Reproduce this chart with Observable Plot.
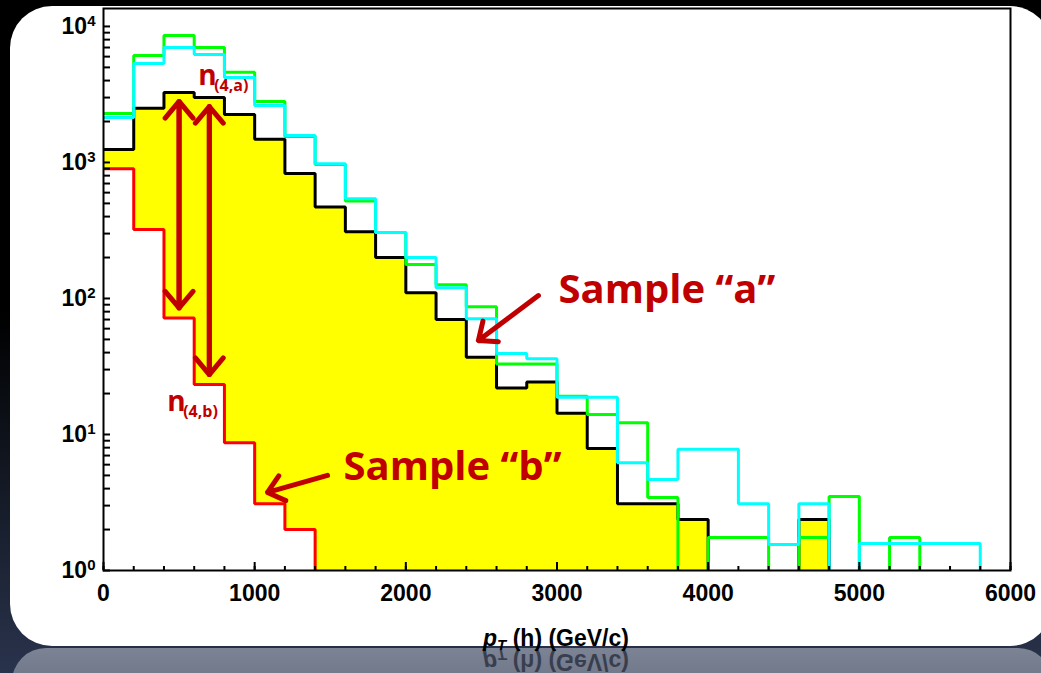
<!DOCTYPE html>
<html>
<head>
<meta charset="utf-8">
<script src="https://cdn.jsdelivr.net/npm/d3@7"></script>
<script src="https://cdn.jsdelivr.net/npm/@observablehq/plot@0.6"></script>
<style>
  html, body { margin: 0; padding: 0; background: #000; }
  #wrap { position: relative; width: 1041px; height: 673px; overflow: hidden;
    background: linear-gradient(to bottom, #000 0%, #000 46%, #151b27 74%, #29334c 100%); }
  #panel { position: absolute; left: 10px; top: 6px; width: 1042px; height: 640px; background: #fff; border-radius: 42px; }
  #reflect { position: absolute; left: 12px; top: 648px; width: 1040px; height: 60px;
    background: linear-gradient(to bottom, #7b8394, #646d80); border-radius: 34px 34px 0 0; }
  #chart { position: absolute; left: 0; top: 0; }
  .xlabel { position: absolute; left: 0; width: 1112px; height: 22px; line-height: 22px; text-align: center;
    font: bold 23px "Liberation Sans", Arial, sans-serif; color: #000; white-space: nowrap; }
  .xlabel i { font-style: italic; }
  .xlabel sub { font-size: 15px; font-style: italic; vertical-align: -4px; line-height: 0; }
  #xlab { top: 625px; }
  #xlabRef { top: 653px; transform: scaleY(-1); color: #2e3443; opacity: 0.85; }
</style>
</head>
<body>
<div id="wrap">
  <div id="panel"></div>
  <div id="reflect"></div>
  <div id="xlabRef" class="xlabel"><i>p</i><sub>T</sub> (h) (GeV/c)</div>
  <div id="chart"></div>
  <div id="xlab" class="xlabel"><i>p</i><sub>T</sub> (h) (GeV/c)</div>
</div>
<script>
// ---- data (bin lower edges, 200 GeV/c wide) ----
const binStart = [0,200,400,600,800,1000,1200,1400,1600,1800,2000,2200,2400,2600,2800,
                  3000,3200,3400,3600,3800,4000,4200,4400,4600,4800,5000,5200,5400,5600,5800];
const binWidth = 200;
// black histogram (sample "a", yellow filled)
const sampleA = [1247,2500,3270,3000,2250,1480,830,470,310,200,110,70,37,22,24.3,
                 14.3,7.9,3.1,3.1,2.37,0,0,0,2.37,0,0,0,0,0,0];
// red histogram (sample "b")
const sampleB = [900,322,72,23.3,8.7,3.1,2.0,0,0,0,0,0,0,0,0,
                 0,0,0,0,0,0,0,0,0,0,0,0,0,0,0];
// green histogram
const greenHist = [2290,6120,8590,7010,4600,2810,1550,966,520,305,178,126,87,33,33,
                   19.1,14,12.2,3.44,0,1.75,1.75,0,1.75,3.5,0,1.75,0,0,0];
// cyan histogram
const cyanHist = [2140,5340,7010,6220,4220,2620,1580,980,540,305,200,120,71,39.4,36,
                  18.8,18.8,6.2,4.67,7.8,7.8,3.1,1.55,3.1,0,1.58,1.58,1.58,1.58,0];

const xTickLabels = [0,1000,2000,3000,4000,5000,6000];
const xMinorTicks = [0,200,400,600,800,1000,1200,1400,1600,1800,2000,2200,2400,2600,2800,3000,
                     3200,3400,3600,3800,4000,4200,4400,4600,4800,5000,5200,5400,5600,5800,6000];
const yMajorTicks = [1,10,100,1000,10000];
const yTickExponents = ["0","1","2","3","4"];
const yMinorTicks = yMajorTicks.slice(0,4).flatMap(d => [1,2,3,4,5,6,7,8,9].map(k => k*d)).concat([10000]);

// annotations
const nArrowBins = [2, 3];               // bins whose n(a) / n(b) are marked
const nLabels = [
  {main: "n", sub: "(4,a)", x: 626, y: 4335},
  {main: "n", sub: "(4,b)", x: 421, y: 17.4}
];
const sampleLabels = [
  {text: "Sample \u201Ca\u201D", x: 3010, y: 115},
  {text: "Sample \u201Cb\u201D", x: 1588, y: 5.76}
];
const sampleArrows = [
  {x1: 2877, y1: 105, x2: 2480, y2: 49},
  {x1: 1482, y1: 5.0, x2: 1085, y2: 3.75}
];

// ---- helpers ----
const FLOOR = 0.5;
const steps = vals => vals.flatMap((v, i) => [
  {x: binStart[i], y: v > 0 ? v : FLOOR, base: 1},
  {x: binStart[i] + binWidth, y: v > 0 ? v : FLOOR, base: 1}
]);
const nArrows = nArrowBins.map(i => ({x: binStart[i] + binWidth / 2, top: sampleA[i], bottom: sampleB[i]}));

const DARKRED = "#c00000";
const ANNOT_FONT = "'Open Sans', Lato, sans-serif";
const lineOpts = {x: "x", y: "y", strokeWidth: 3, clip: true, strokeLinejoin: "miter", strokeLinecap: "square"};

const plot = Plot.plot({
  width: 1041, height: 673,
  marginLeft: 103, marginRight: 31, marginTop: 8, marginBottom: 103,
  x: {domain: [0, 6000], label: null},
  y: {type: "log", domain: [1, 13550], label: null},
  style: {background: "transparent", fontFamily: "'Liberation Sans', Arial, sans-serif",
          fontWeight: "bold", fontSize: "22px", color: "black"},
  marks: [
    Plot.areaY(steps(sampleA), {x: "x", y1: "base", y2: "y", fill: "#ffff00", clip: true}),
    Plot.areaY(steps(sampleB), {x: "x", y1: "base", y2: "y", fill: "white", clip: true}),
    Plot.line(steps(sampleA), {...lineOpts, stroke: "black"}),
    Plot.line(steps(sampleB), {...lineOpts, stroke: "#ff0000"}),
    Plot.line(steps(greenHist), {...lineOpts, stroke: "#00ff00"}),
    Plot.line(steps(cyanHist), {...lineOpts, stroke: "#00ffff"}),
    // double arrows n(4,a) <-> n(4,b)
    Plot.arrow(nArrows, {x1: "x", x2: "x", y1: "top", y2: "bottom", stroke: DARKRED, strokeWidth: 5,
      headLength: 6.5, headAngle: 80, insetStart: 9, insetEnd: 10}),
    Plot.arrow(nArrows, {x1: "x", x2: "x", y1: "bottom", y2: "top", stroke: DARKRED, strokeWidth: 5,
      headLength: 6.5, headAngle: 80, insetStart: 10, insetEnd: 9}),
    Plot.arrow(sampleArrows, {x1: "x1", y1: "y1", x2: "x2", y2: "y2", stroke: DARKRED, strokeWidth: 5,
      headLength: 6, headAngle: 80}),
    Plot.text(nLabels, {x: "x", y: "y", text: "main", textAnchor: "start", fill: DARKRED,
      fontFamily: ANNOT_FONT, fontWeight: "bold", fontSize: 28}),
    Plot.text(nLabels, {x: "x", y: "y", text: "sub", textAnchor: "start", fill: DARKRED, dx: 16, dy: 10,
      fontFamily: ANNOT_FONT, fontWeight: "bold", fontSize: 16}),
    Plot.text(sampleLabels, {x: "x", y: "y", text: "text", textAnchor: "start", fill: DARKRED,
      fontFamily: ANNOT_FONT, fontWeight: "bold", fontSize: 40}),
    Plot.frame({stroke: "black", strokeWidth: 2}),
    Plot.axisY({ticks: yMinorTicks, tickSize: -7, fill: "none", strokeWidth: 2, label: null}),
    Plot.axisY({ticks: yMajorTicks, tickSize: 0, tickPadding: 8, label: null,
      tickFormat: d => "10^" + yTickExponents[yMajorTicks.indexOf(d)]}),
    Plot.axisX({ticks: xMinorTicks, tickSize: -4, fill: "none", strokeWidth: 2, label: null}),
    Plot.axisX({ticks: xTickLabels, tickSize: -8, fill: "none", strokeWidth: 2, label: null}),
    Plot.axisX({ticks: xTickLabels, tickSize: 0, tickPadding: 14, label: null,
      tickFormat: d => String(d)})
  ]
});

// tick label font size (set directly on the tick label texts)
d3.select(plot).selectAll('g[aria-label="x-axis tick label"], g[aria-label="y-axis tick label"]')
  .attr("font-size", 23).attr("font-weight", "bold")
  .selectAll("text").attr("font-size", 23);

// superscript exponents on the y tick labels
d3.select(plot).selectAll("text").each(function() {
  const m = /^10\^(\d)$/.exec(this.textContent);
  if (!m) return;
  const t = d3.select(this);
  t.text(null);
  t.append("tspan").text("10");
  t.append("tspan").attr("dy", "-0.5em").attr("font-size", "15px").text(m[1]);
});

document.getElementById("chart").appendChild(plot);
</script>
</body>
</html>
